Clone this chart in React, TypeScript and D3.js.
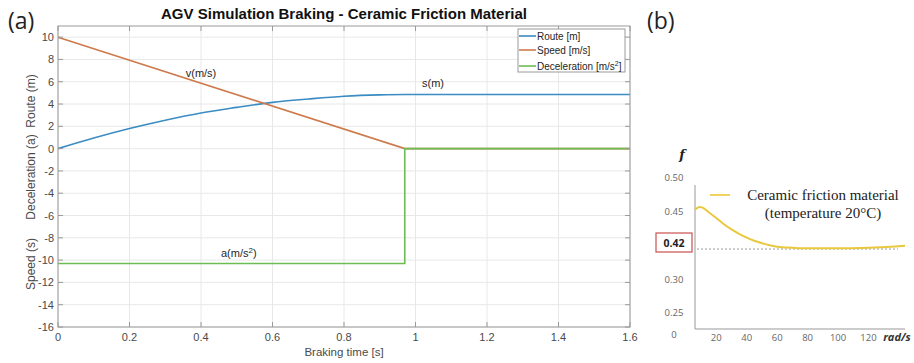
import React from "react";
import * as d3 from "d3";

// ---- Panel (a) data ----
const timeTicks = [0, 0.2, 0.4, 0.6, 0.8, 1, 1.2, 1.4, 1.6];
const valueTicks = [-16, -14, -12, -10, -8, -6, -4, -2, 0, 2, 4, 6, 8, 10];
const routeT = [0, 0.1, 0.2, 0.3, 0.4, 0.5, 0.6, 0.7, 0.8, 0.9, 0.97, 1.6];
const routeS = [0, 0.95, 1.8, 2.55, 3.2, 3.7, 4.15, 4.45, 4.7, 4.82, 4.85, 4.85];
const speedT = [0, 0.97, 1.6];
const speedV = [10, 0, 0];
const decelT = [0, 0.97, 0.97, 1.6];
const decelA = [-10.3, -10.3, 0, 0];
const legendLabels = ["Route [m]", "Speed [m/s]", "Deceleration [m/s"];
const seriesColors = ["#3a8cc2", "#cf7a4c", "#6dbd55"];

// ---- Panel (b) data ----
const fTicks = [0.5, 0.45, 0.42, 0.3, 0.25, 0];
const fTickLabels = ["0.50", "0.45", "0.42", "0.30", "0.25", "0"];
const radTicks = [20, 40, 60, 80, 100, 120];
const curveRad = [6, 9, 11, 15, 20, 25, 30, 35, 40, 45, 50, 55, 60, 70, 80, 100, 120, 135, 144];
const curveF = [0.452, 0.456, 0.455, 0.449, 0.4445, 0.4395, 0.4355, 0.432, 0.429, 0.4265, 0.4245, 0.423, 0.4218, 0.421, 0.4205, 0.4205, 0.421, 0.4218, 0.4225];

const FONT = "Arial, 'Liberation Sans', sans-serif";

export default function App() {
  // Panel (a) scales
  const x = d3.scaleLinear().domain([0, 1.6]).range([58, 630]);
  const y = d3.scaleLinear().domain([-16, 11]).range([327, 26]);
  const line = d3
    .line<[number, number]>()
    .x((d) => x(d[0]))
    .y((d) => y(d[1]));
  const route = routeT.map((t, i) => [t, routeS[i]] as [number, number]);
  const speed = speedT.map((t, i) => [t, speedV[i]] as [number, number]);
  const decel = decelT.map((t, i) => [t, decelA[i]] as [number, number]);
  const routeLine = d3
    .line<[number, number]>()
    .x((d) => x(d[0]))
    .y((d) => y(d[1]))
    .curve(d3.curveMonotoneX);

  // Panel (b) scales
  const bx = d3.scaleLinear().domain([6, 144]).range([695, 905]);
  const by = d3
    .scaleLinear()
    .domain([0, 0.25, 0.3, 0.42, 0.45, 0.5])
    .range([334, 312, 279, 249, 211, 177]);
  const curve = curveRad.map((r, i) => [r, curveF[i]] as [number, number]);
  const bLine = d3
    .line<[number, number]>()
    .x((d) => bx(d[0]))
    .y((d) => by(d[1]))
    .curve(d3.curveMonotoneX);

  const [x0, x1] = x.range();
  const [yb, yt] = y.range();

  return (
    <svg
      width={914}
      height={363}
      style={{ position: "absolute", left: 0, top: 0, background: "#fff" }}
      fontFamily={FONT}
    >
      <rect width={914} height={363} fill="#fff" />
      {/* panel labels */}
      <text x={8} y={29} fontSize={23} fontFamily="'Open Sans', sans-serif" fill="#222">(a)</text>
      <text x={647} y={29} fontSize={23} fontFamily="'Open Sans', sans-serif" fill="#222">(b)</text>

      {/* title */}
      <text x={344} y={19} textAnchor="middle" fontSize={15} fontWeight="bold" fill="#111">
        AGV Simulation Braking - Ceramic Friction Material
      </text>

      {/* grid */}
      {timeTicks.map((t) => (
        <line key={"gx" + t} x1={x(t)} x2={x(t)} y1={yb} y2={yt} stroke="#e8e8e8" strokeWidth={1} />
      ))}
      {valueTicks.map((v) => (
        <line key={"gy" + v} x1={x0} x2={x1} y1={y(v)} y2={y(v)} stroke="#e8e8e8" strokeWidth={1} />
      ))}

      {/* series */}
      <path d={routeLine(route) || ""} fill="none" stroke={seriesColors[0]} strokeWidth={1.6} />
      <path d={line(speed) || ""} fill="none" stroke={seriesColors[1]} strokeWidth={1.6} />
      <path d={line(decel) || ""} fill="none" stroke={seriesColors[2]} strokeWidth={1.6} />

      {/* frame + ticks */}
      <rect x={x0} y={yt} width={x1 - x0} height={yb - yt} fill="none" stroke="#9a9a9a" strokeWidth={1} />
      {timeTicks.map((t) => (
        <g key={"tx" + t}>
          <line x1={x(t)} x2={x(t)} y1={yb} y2={yb - 5} stroke="#9a9a9a" />
          <line x1={x(t)} x2={x(t)} y1={yt} y2={yt + 5} stroke="#9a9a9a" />
          <text x={x(t)} y={yb + 14} textAnchor="middle" fontSize={11} fill="#4a4a4a">
            {d3.format("~g")(t)}
          </text>
        </g>
      ))}
      {valueTicks.map((v) => (
        <g key={"ty" + v}>
          <line x1={x0} x2={x0 + 5} y1={y(v)} y2={y(v)} stroke="#9a9a9a" />
          <line x1={x1} x2={x1 - 5} y1={y(v)} y2={y(v)} stroke="#9a9a9a" />
          <text x={x0 - 4} y={y(v) + 4} textAnchor="end" fontSize={11} fill="#4a4a4a">
            {v}
          </text>
        </g>
      ))}

      {/* axis labels */}
      <text x={344} y={356} textAnchor="middle" fontSize={11.5} fill="#4a4a4a">Braking time [s]</text>
      <text transform="translate(35,101) rotate(-90)" textAnchor="middle" fontSize={12} fill="#4a4a4a">Route (m)</text>
      <text transform="translate(35,177) rotate(-90)" textAnchor="middle" fontSize={12} fill="#4a4a4a">Deceleration (a)</text>
      <text transform="translate(35,264) rotate(-90)" textAnchor="middle" fontSize={12} fill="#4a4a4a">Speed (s)</text>

      {/* annotations */}
      <text x={201} y={77} textAnchor="middle" fontSize={11} fill="#262626">v(m/s)</text>
      <text x={433} y={87} textAnchor="middle" fontSize={11} fill="#262626">s(m)</text>
      <text x={221} y={257} fontSize={11} fill="#262626">
        a(m/s<tspan dy={-4} fontSize={8}>2</tspan><tspan dy={4}>)</tspan>
      </text>

      {/* legend */}
      <rect x={518} y={29} width={107} height={43} fill="#fff" stroke="#9a9a9a" strokeWidth={1} />
      {legendLabels.map((lab, i) => {
        const ly = [36, 50, 66][i];
        return (
          <g key={lab}>
            <line x1={519} x2={536} y1={ly} y2={ly} stroke={seriesColors[i]} strokeWidth={1.6} />
            <text x={537} y={ly + 4} fontSize={10} fill="#262626">
              {lab}
              {i === 2 ? (
                <>
                  <tspan dy={-4} fontSize={7}>2</tspan>
                  <tspan dy={4}>]</tspan>
                </>
              ) : null}
            </text>
          </g>
        );
      })}

      {/* ===== Panel (b) ===== */}
      <text x={682} y={159} textAnchor="middle" fontSize={13} fontStyle="italic" fontWeight="bold" fontFamily="'DejaVu Serif', serif" fill="#222">f</text>
      <line x1={695} x2={695} y1={185} y2={329} stroke="#999" strokeWidth={1} />
      <line x1={695} x2={905} y1={329} y2={329} stroke="#999" strokeWidth={1} />
      <line x1={697} x2={898} y1={by(0.42)} y2={by(0.42)} stroke="#999" strokeWidth={1} strokeDasharray="2,2" />
      {fTicks.map((v, i) => {
        const isRef = v === 0.42;
        const ty = isRef ? by(v) - 6 : by(v);
        return (
          <text
            key={"bf" + v}
            x={674}
            y={ty + 3.5}
            textAnchor="middle"
            fontSize={isRef ? 10.5 : 9.5}
            fontWeight={isRef ? "bold" : "normal"}
            fontFamily="'Open Sans', sans-serif"
            fill={isRef ? "#222" : "#666"}
          >
            {fTickLabels[i]}
          </text>
        );
      })}
      <rect x={656} y={233} width={36} height={19} fill="none" stroke="#c9504f" strokeWidth={1.2} />
      {radTicks.map((r) => (
        <text key={"br" + r} x={bx(r)} y={341} textAnchor="middle" fontSize={9.5} fontFamily="'Open Sans', sans-serif" fill="#666">
          {r}
        </text>
      ))}
      <text x={897} y={341} textAnchor="middle" fontSize={11} fontStyle="italic" fontWeight="bold" fontFamily="'Open Sans', sans-serif" fill="#333">rad/s</text>
      <path d={bLine(curve) || ""} fill="none" stroke="#e9c83e" strokeWidth={2} />
      <line x1={710} x2={730} y1={195} y2={195} stroke="#f0d25e" strokeWidth={2} />
      <text x={823} y={200} textAnchor="middle" fontSize={15} fontFamily="'Liberation Serif', 'Times New Roman', serif" fill="#222">Ceramic friction material</text>
      <text x={823} y={218} textAnchor="middle" fontSize={15} fontFamily="'Liberation Serif', 'Times New Roman', serif" fill="#222">(temperature 20°C)</text>
    </svg>
  );
}
